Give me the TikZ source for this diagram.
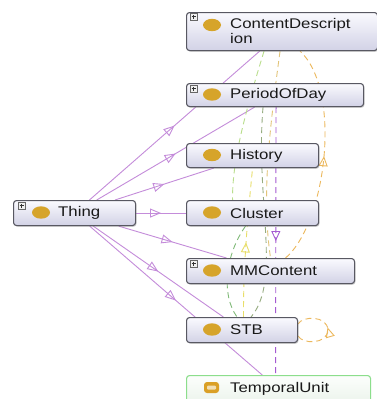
\documentclass[tikz,border=0pt]{standalone}
\usepackage{fontspec}
\newfontfamily\lbl[FakeStretch=1.2]{Liberation Sans}
\usetikzlibrary{arrows.meta,decorations.markings,backgrounds,shadows}

\definecolor{edgepurple}{RGB}{196,140,218}
\definecolor{boxborder}{RGB}{88,88,98}
\definecolor{boxtop}{RGB}{250,250,254}
\definecolor{boxbot}{RGB}{210,210,230}
\definecolor{gold}{RGB}{214,164,42}
\definecolor{tuborder}{RGB}{140,222,140}
\definecolor{tutop}{RGB}{252,254,252}
\definecolor{tubot}{RGB}{236,244,236}
\definecolor{cLightGreen}{RGB}{185,222,140}
\definecolor{cGreen}{RGB}{128,186,120}
\definecolor{cYellow}{RGB}{232,222,105}
\definecolor{cPurple}{RGB}{165,90,210}
\definecolor{cOrange}{RGB}{236,184,92}
\definecolor{cOrangeY}{RGB}{226,196,120}
\definecolor{cGreyGreen}{RGB}{150,172,128}

\begin{document}
\begin{tikzpicture}[x=1pt,y=-1pt,
  cls/.style={draw=boxborder, line width=1.1pt, rounded corners=3pt,
    top color=boxtop, bottom color=boxbot, anchor=north west, inner sep=0pt,
    drop shadow={shadow xshift=1pt, shadow yshift=-1.2pt, opacity=0.35}},
  tucls/.style={draw=tuborder, line width=1.1pt, rounded corners=3pt,
    top color=tutop, bottom color=tubot, anchor=north west, inner sep=0pt},
  lab/.style={anchor=west, inner sep=0pt, font=\lbl\fontsize{14}{15}\selectfont, text=black!90},
  plusbox/.style={draw=black!60, fill=black!6, line width=0.5pt, minimum size=7pt, inner sep=0pt,
    anchor=north west,
    path picture={\draw[line width=0.8pt, black!80]
      ([xshift=-2.2pt]path picture bounding box.center) -- ([xshift=2.2pt]path picture bounding box.center)
      ([yshift=-2.2pt]path picture bounding box.center) -- ([yshift=2.2pt]path picture bounding box.center);}},
  isa/.style={draw=edgepurple, line width=0.9pt, postaction={decorate},
    decoration={markings, mark=at position 0.5 with {\arrow{Triangle[open, length=11pt, width=9pt, line width=0.9pt]}}}},
  rel/.style={line width=0.9pt, dash pattern=on 6pt off 4pt, postaction={decorate},
    decoration={markings, mark=at position #1 with {\arrow{Triangle[open, length=10pt, width=9pt, line width=0.9pt]}}}},
  rel/.default=0.5,
  relplain/.style={line width=0.9pt, dash pattern=on 6pt off 4pt}
]
\useasboundingbox (0,0) rectangle (377,399);

% class boxes
\node[cls, minimum width=191pt, minimum height=38pt] (cd) at (186,12) {};
\node[cls, minimum width=177pt, minimum height=23pt] (pod) at (186,83) {};
\node[cls, minimum width=132pt, minimum height=24pt] (hist) at (186,143) {};
\node[cls, minimum width=132pt, minimum height=25pt] (clu) at (186,200) {};
\node[cls, minimum width=168pt, minimum height=25pt] (mm) at (186,258) {};
\node[cls, minimum width=111pt, minimum height=25pt] (stb) at (186,317) {};
\node[tucls, minimum width=184pt, minimum height=27pt] (tu) at (186,375) {};
\node[cls, minimum width=122pt, minimum height=25pt] (thing) at (13,200) {};

% plus boxes
\node[plusbox] (p1) at (190,13) {};
\node[plusbox] (p2) at (190,85) {};
\node[plusbox] (p3) at (190,260) {};
\node[plusbox] (p4) at (18,202) {};

% icons
\fill[gold] (212,25) ellipse (9 and 6.2);
\fill[gold] (212,94.5) ellipse (9 and 6.2);
\fill[gold] (212,155) ellipse (9 and 6.2);
\fill[gold] (212,212.5) ellipse (9 and 6.2);
\fill[gold] (212,270.5) ellipse (9 and 6.2);
\fill[gold] (212,329.5) ellipse (9 and 6.2);
\fill[gold] (41,212.5) ellipse (9 and 6.2);
\fill[gold!90!orange, rounded corners=3pt] (204,382) rectangle (219,393);
\fill[gold!35!white, rounded corners=1pt] (207,385.5) rectangle (216,389.5);

% labels
\node[lab, align=left, anchor=north west] (cdl) at (230,18) {ContentDescript\\[0pt]ion};
\node[lab] (podl) at (230,95) {PeriodOfDay};
\node[lab] (histl) at (230,155.5) {History};
\node[lab] (clul) at (230,213) {Cluster};
\node[lab] (mml) at (230,271) {MMContent};
\node[lab] (stbl) at (230,330) {STB};
\node[lab] (tul) at (230,388.5) {TemporalUnit};
\node[lab] (thingl) at (58,213) {Thing};

\begin{scope}[on background layer]
\fill[white] (0,0) rectangle (377,399);
% is-a edges from Thing
\draw[isa] (thing) -- (cd);
\draw[isa] (thing) -- (pod);
\draw[isa] (thing) -- (hist);
\draw[isa] (thing) -- (clu);
\draw[isa] (thing) -- (mm);
\draw[isa] (thing) -- (stb);
\draw[isa] (thing) -- (tu);

% object property edges
\draw[relplain, cLightGreen] ([xshift=-18pt]cd.south) .. controls (246,110) and (232,160) .. ([xshift=-20pt]clu.north);
\draw[relplain, cGreen] ([xshift=-7pt]clu.south) .. controls (225,255) and (221,295) .. ([xshift=-5pt]stb.north);
\draw[rel, cYellow] ([xshift=1.5pt]stb.north) .. controls (243,262) and (249,205) .. (hist.south);
\draw[rel, cPurple] ([xshift=1pt]pod.south) -- ([xshift=-3pt]tu.north);
\draw[rel, cOrange] ([xshift=15pt]mm.north) .. controls (327,222) and (342,90) .. ([xshift=18pt]cd.south);
\draw[relplain, cOrangeY] ([xshift=-2pt]cd.south) .. controls (268,140) and (262,200) .. (mm.north);
\draw[relplain, cGreyGreen] ([xshift=-12pt]pod.south) .. controls (255,200) and (282,280) .. ([xshift=9pt]stb.north);
\draw[rel=0.535, cOrange] (stb.east |- 0,336) .. controls (302,344) and (327,345) .. (328,330)
  .. controls (327,315) and (302,316) .. (stb.east |- 0,324);
\end{scope}
\end{tikzpicture}
\end{document}
